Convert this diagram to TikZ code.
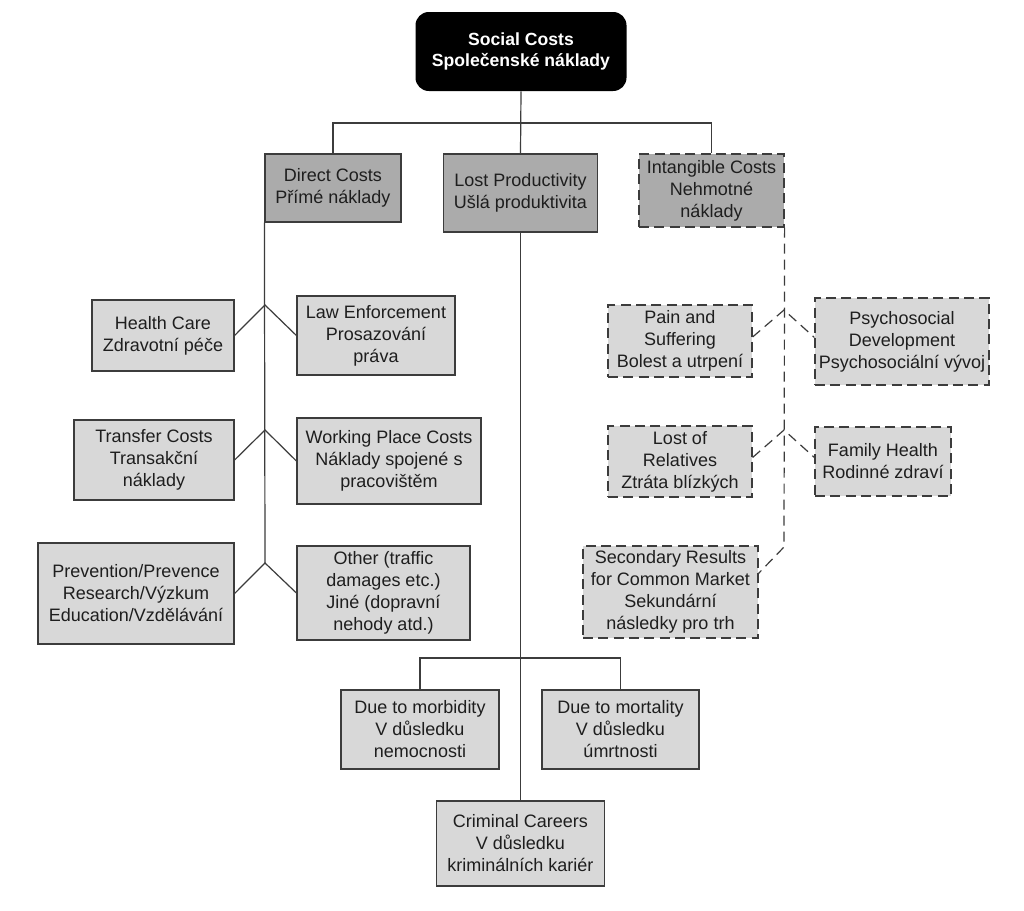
\documentclass[tikz,border=0pt]{standalone}
\usepackage{fontspec}
\setmainfont{Liberation Sans}
\definecolor{edge}{HTML}{3C3C3C}
\definecolor{txt}{HTML}{1E1E1E}
\definecolor{gmain}{HTML}{ABABAB}
\definecolor{gsub}{HTML}{D8D8D8}
\begin{document}
\begin{tikzpicture}[x=0.75pt,y=-0.75pt,
  base/.style={draw=edge, line width=0.9pt, align=center, inner sep=0pt, text=txt,
    font=\fontsize{13.5}{16.5}\selectfont},
  mainbox/.style={base, fill=gmain},
  subbox/.style={base, fill=gsub},
  dbox/.style={dash pattern=on 7.5pt off 4pt},
  sz/.style 2 args={minimum width=#1*0.75pt, minimum height=#2*0.75pt},
  link/.style={draw=edge, line width=0.9pt},
  dlink/.style={link, dash pattern=on 7.5pt off 4.5pt}]
\useasboundingbox[fill=white] (0,0) rectangle (1024,910);

% top
\node[fill=black, rounded corners=10pt, text=white, align=center, inner sep=0pt,
  font=\fontsize{13.2}{16}\selectfont\bfseries, sz={211}{79}] (sc) at (521,51.5)
  {Social Costs\\Společenské náklady};

% level 1
\node[mainbox, sz={136}{68}] (dc) at (333,188) {Direct Costs\\Přímé náklady};
\node[mainbox, sz={154}{78}] (lp) at (520.5,193) {Lost Productivity\\Ušlá produktivita};
\node[mainbox, dbox, sz={145}{73}] (ic) at (711.5,190.5) {Intangible Costs\\Nehmotné\\náklady};

% direct costs children
\node[subbox, sz={142}{71}] (hc) at (163,335.5) {Health Care\\Zdravotní péče};
\node[subbox, sz={158}{79}] (le) at (376,335.5) {Law Enforcement\\Prosazování\\práva};
\node[subbox, sz={160}{80}] (tc) at (154,460) {Transfer Costs\\Transakční\\náklady};
\node[subbox, sz={184}{86}] (wp) at (389,461) {Working Place Costs\\Náklady spojené s\\pracovištěm};
\node[subbox, sz={196}{101}] (pr) at (136,593.5) {Prevention/Prevence\\Research/Výzkum\\Education/Vzdělávání};
\node[subbox, sz={173}{94}] (ot) at (383.5,593) {Other (traffic\\damages etc.)\\Jiné (dopravní\\nehody atd.)};

% intangible children
\node[subbox, dbox, sz={144}{72}] (pa) at (680,341) {Pain and\\Suffering\\Bolest a utrpení};
\node[subbox, dbox, sz={174}{87}] (ps) at (902,341.5) {Psychosocial\\Development\\Psychosociální vývoj};
\node[subbox, dbox, sz={144}{71}] (lr) at (680,461.5) {Lost of\\Relatives\\Ztráta blízkých};
\node[subbox, dbox, sz={136}{69}] (fh) at (883,461.5) {Family Health\\Rodinné zdraví};
\node[subbox, dbox, sz={175}{92}] (sr) at (670.5,592) {Secondary Results\\for Common Market\\Sekundární\\následky pro trh};

% lost productivity children
\node[subbox, sz={158}{79}] (dm) at (420,729.5) {Due to morbidity\\V důsledku\\nemocnosti};
\node[subbox, sz={157}{79}] (dt) at (620.5,729.5) {Due to mortality\\V důsledku\\úmrtnosti};
\node[subbox, sz={168}{85}] (cc) at (520.5,843.5) {Criminal Careers\\V důsledku\\kriminálních kariér};

% coordinates
\coordinate (bar) at (520.5,123);
\coordinate (b1) at (265,305);
\coordinate (b2) at (265,430);
\coordinate (b3) at (265,563);
\coordinate (i1) at (784,310);
\coordinate (i2) at (784,430);
\coordinate (ie) at (784,547);
\coordinate (h) at (520.5,658);

% connectors
\draw[link] (sc.south) -- (lp.north);
\draw[link] (dc.north) |- (bar) -| (ic.north);

\draw[link] (dc.south west) -- (b3);
\draw[link] (hc.east) -- (b1) -- (le.west);
\draw[link] (tc.east) -- (b2) -- (wp.west);
\draw[link] (pr.east) -- (b3) -- (ot.west);

\draw[link] (lp.south) -- (cc.north);
\draw[link] (dm.north) |- (h) -| (dt.north);

\draw[dlink] (ic.south east) -- (ie) -- ([yshift=14pt]sr.east);
\draw[dlink] ([yshift=3pt]pa.east) -- (i1) -- ([yshift=3pt]ps.west);
\draw[dlink] ([yshift=3pt]lr.east) -- (i2) -- ([yshift=3pt]fh.west);
\end{tikzpicture}
\end{document}
